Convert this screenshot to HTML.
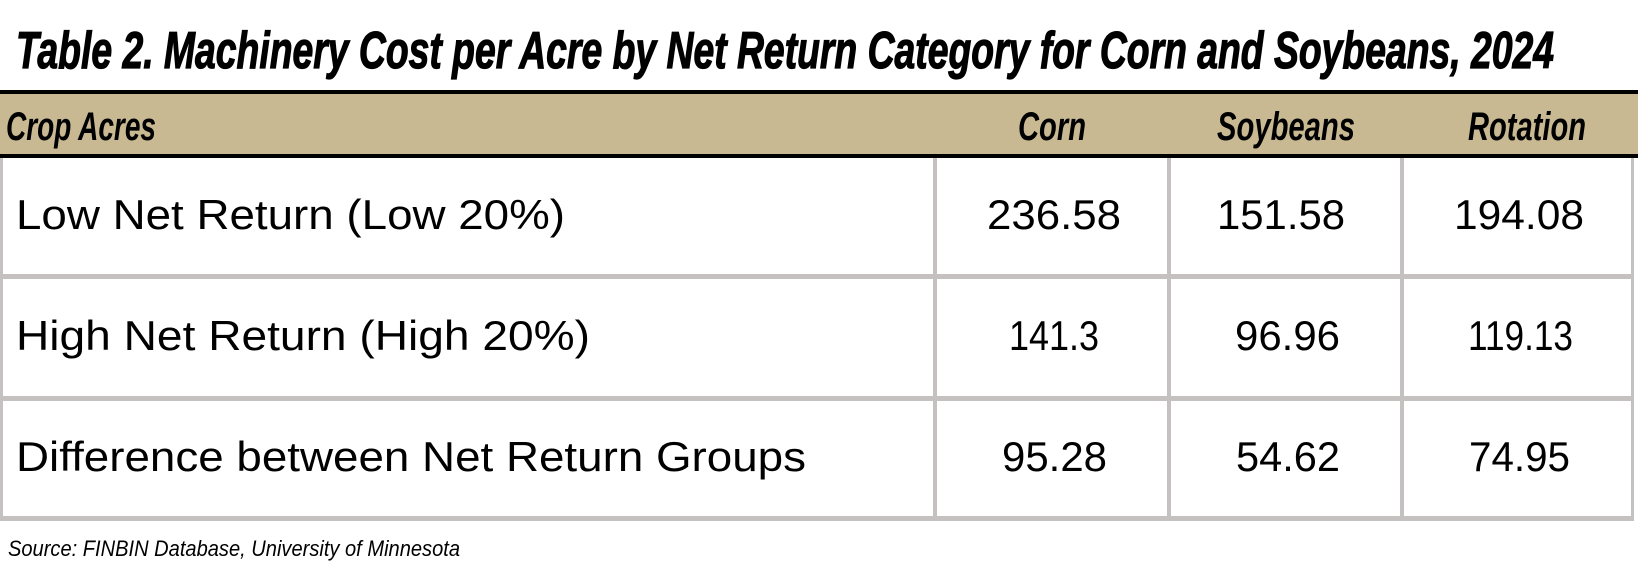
<!DOCTYPE html>
<html><head><style>html,body{margin:0;padding:0;background:#fff;}svg{display:block}</style></head>
<body>
<svg width="1638" height="575" xmlns="http://www.w3.org/2000/svg" font-family="'Liberation Sans Narrow','Liberation Sans',sans-serif">
<rect width="1638" height="575" fill="#fff"/>
<text x="16" y="68" font-size="52" font-weight="bold" font-style="italic" stroke="#000" stroke-width="1.2" textLength="1538" lengthAdjust="spacingAndGlyphs">Table 2.  Machinery Cost per Acre by Net Return Category for Corn and Soybeans, 2024</text>
<rect x="0" y="92" width="1638" height="64" fill="#c8b993"/>
<rect x="0" y="90" width="1638" height="4" fill="#000"/>
<rect x="0" y="154" width="1638" height="4" fill="#000"/>
<g font-size="40" font-weight="bold" font-style="italic">
<text x="6" y="140" textLength="150" lengthAdjust="spacingAndGlyphs">Crop Acres</text>
<text x="1018" y="140" textLength="68" lengthAdjust="spacingAndGlyphs">Corn</text>
<text x="1217" y="140" textLength="138" lengthAdjust="spacingAndGlyphs">Soybeans</text>
<text x="1468" y="140" textLength="118" lengthAdjust="spacingAndGlyphs">Rotation</text>
</g>
<g fill="#c5c1c1">
<rect x="0" y="158" width="3" height="363"/>
<rect x="1631" y="158" width="3" height="363"/>
<rect x="0" y="274" width="1634" height="5"/>
<rect x="0" y="396" width="1634" height="5"/>
<rect x="0" y="516" width="1634" height="5"/>
<rect x="933" y="158" width="4" height="360"/>
<rect x="1167" y="158" width="4" height="360"/>
<rect x="1400" y="158" width="4" height="360"/>
</g>
<g font-size="42" font-family="'Liberation Sans',sans-serif">
<text x="16" y="229" textLength="549" lengthAdjust="spacingAndGlyphs">Low Net Return (Low 20%)</text>
<text x="16" y="350" textLength="574" lengthAdjust="spacingAndGlyphs">High Net Return (High 20%)</text>
<text x="16" y="471" textLength="790" lengthAdjust="spacingAndGlyphs">Difference between Net Return Groups</text>
<text x="987" y="229" textLength="134" lengthAdjust="spacingAndGlyphs">236.58</text>
<text x="1217" y="229" textLength="128" lengthAdjust="spacingAndGlyphs">151.58</text>
<text x="1454" y="229" textLength="130" lengthAdjust="spacingAndGlyphs">194.08</text>
<text x="1009" y="350" textLength="90" lengthAdjust="spacingAndGlyphs">141.3</text>
<text x="1235" y="350" textLength="105" lengthAdjust="spacingAndGlyphs">96.96</text>
<text x="1468" y="350" textLength="105" lengthAdjust="spacingAndGlyphs">119.13</text>
<text x="1002" y="471" textLength="105" lengthAdjust="spacingAndGlyphs">95.28</text>
<text x="1236" y="471" textLength="104" lengthAdjust="spacingAndGlyphs">54.62</text>
<text x="1469" y="471" textLength="101" lengthAdjust="spacingAndGlyphs">74.95</text>
</g>
<text x="8" y="556" font-size="22" font-style="italic" textLength="452" lengthAdjust="spacingAndGlyphs">Source:  FINBIN Database, University of Minnesota</text>
</svg>
</body></html>
